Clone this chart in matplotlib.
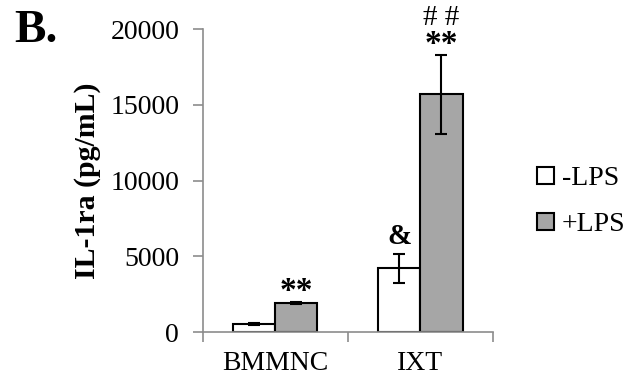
import matplotlib
matplotlib.use("Agg")
import matplotlib.pyplot as plt
import numpy as np

plt.rcParams['font.family'] = ['Liberation Serif', 'DejaVu Serif']

groups = ["BMMNC", "IXT"]
series = ["-LPS", "+LPS"]
minus_lps = [550, 4200]
plus_lps = [1900, 15700]
minus_err = [60, 950]
plus_err = [80, 2600]
minus_marks = ["", "&"]
plus_marks = ["**", "**"]
plus_marks_top = ["", "# #"]

fig = plt.figure(figsize=(6.28, 3.81), dpi=100)
ax = fig.add_axes([0.323, 0.1286, 0.462, 0.795])

x = np.arange(len(groups))
w = 0.29
ekw = dict(ecolor="black", elinewidth=1.5, capsize=4, capthick=1.5)
ax.bar(x - w / 2, minus_lps, w, yerr=minus_err, color="white",
       edgecolor="black", linewidth=1.5, label=series[0], error_kw=ekw)
ax.bar(x + w / 2, plus_lps, w, yerr=plus_err, color="#a6a6a6",
       edgecolor="black", linewidth=1.5, label=series[1], error_kw=ekw)

# significance marks
for i in range(len(groups)):
    if minus_marks[i]:
        ax.text(x[i] - w / 2, minus_lps[i] + minus_err[i] + 250, minus_marks[i],
                ha="center", va="bottom", fontsize=21, fontweight="bold")
    top = plus_lps[i] + plus_err[i] + 100
    ax.text(x[i] + w / 2, top - 450, plus_marks[i], ha="center", va="bottom",
            fontsize=24, fontweight="bold")
    if plus_marks_top[i]:
        ax.text(x[i] + w / 2, top + 1450, plus_marks_top[i], ha="center",
                va="bottom", fontsize=21)

ax.set_xlim(-0.5, 1.5)
ax.set_ylim(0, 20000)
ax.set_yticks([0, 5000, 10000, 15000, 20000])
ax.set_xticks(x)
ax.set_xticklabels(groups)
ax.set_xticks([-0.5, 0.5, 1.5], minor=True)
ax.tick_params(axis="x", which="major", length=0, pad=14, labelsize=20)
ax.tick_params(axis="x", which="minor", length=7, color="#8c8c8c", width=1.2)
ax.tick_params(axis="y", length=7, color="#8c8c8c", width=1.2, pad=10,
               labelsize=20)

for s in ["top", "right"]:
    ax.spines[s].set_visible(False)
for s in ["left", "bottom"]:
    ax.spines[s].set_color("#8c8c8c")
    ax.spines[s].set_linewidth(1.2)

ax.set_ylabel("IL-1ra (pg/mL)", fontsize=21.5, fontweight="bold", labelpad=7)

fig.text(0.022, 0.89, "B.", fontsize=34, fontweight="bold")

ax.legend(loc="center left", bbox_to_anchor=(1.065, 0.43), frameon=False,
          fontsize=20, handlelength=0.6, handleheight=0.6, handletextpad=0.3,
          labelspacing=0.75)

fig.savefig("out.png", dpi=100)
